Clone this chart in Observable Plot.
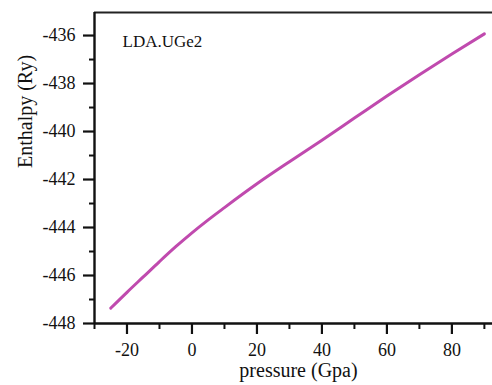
<!DOCTYPE html>
<html>
<head>
<meta charset="utf-8">
<script src="https://cdn.jsdelivr.net/npm/d3@7"></script>
<script src="https://cdn.jsdelivr.net/npm/@observablehq/plot@0.6"></script>
<style>
  html, body { margin: 0; padding: 0; background: #fff; }
  #chart svg { display: block; }
  #chart svg, #chart svg text { font-family: "Liberation Serif", "Times New Roman", serif !important; }
</style>
</head>
<body>
<div id="chart"></div>
<script>
// Enthalpy of UGe2 (LDA) versus pressure
const pressure = [-25, -20, -15, -10, -5, 0, 5, 10, 20, 30, 40, 50, 60, 70, 80, 90];
const enthalpy = [-447.36, -446.70, -446.06, -445.42, -444.80, -444.22, -443.68, -443.17,
                  -442.18, -441.26, -440.36, -439.44, -438.52, -437.63, -436.77, -435.93];

const xMajorTicks = [-20, 0, 20, 40, 60, 80];
const xMinorTicks = [-30, -10, 10, 30, 50, 70, 90];
const yMajorTicks = [-448, -446, -444, -442, -440, -438, -436];
const yMinorTicks = [-447, -445, -443, -441, -439, -437];

const xDomain = [-30, 92.5];
const yDomain = [-448, -435.04];

const curve = pressure.map((p, i) => ({pressure: p, enthalpy: enthalpy[i]}));

// plain hyphen-minus, as printed on the axes
const plainNumber = d => String(d);

const chart = Plot.plot({
  width: 492,
  height: 385,
  marginLeft: 94,
  marginRight: 0,
  marginTop: 12,
  marginBottom: 62,
  style: "font-family: 'Liberation Serif', 'Times New Roman', serif; background: #fff; color: #111;",
  x: {domain: xDomain},
  y: {domain: yDomain},
  marks: [
    // frame: heavy top edge, faint right edge
    Plot.ruleY([yDomain[1]], {stroke: "#222", strokeWidth: 2.2}),
    Plot.ruleX([xDomain[1]], {stroke: "#f2ece8", strokeWidth: 1}),
    // axes
    Plot.axisY(yMajorTicks, {tickSize: 11, tickPadding: 8, fontSize: 18, strokeWidth: 2.2, stroke: "#111", tickFormat: plainNumber, label: null}),
    Plot.axisY(yMinorTicks, {tickSize: 5, tickFormat: () => "", strokeWidth: 2, stroke: "#111", label: null}),
    Plot.axisX(xMajorTicks, {tickSize: 11, tickPadding: 9, fontSize: 18, strokeWidth: 2.2, stroke: "#111", tickFormat: plainNumber, label: null}),
    Plot.axisX(xMinorTicks, {tickSize: 6, tickFormat: () => "", strokeWidth: 2, stroke: "#111", label: null}),
    Plot.ruleX([xDomain[0]], {stroke: "#111", strokeWidth: 2.4}),
    Plot.ruleY([yDomain[0]], {stroke: "#111", strokeWidth: 2.4}),
    // enthalpy curve
    Plot.line(curve, {x: "pressure", y: "enthalpy", stroke: "#c04aae", strokeWidth: 3, strokeLinecap: "round", curve: "monotone-x"}),
    // labels
    Plot.text(["LDA.UGe2"], {frameAnchor: "top-left", dx: 28, dy: 22, text: d => d, fontSize: 17, fill: "#111", textAnchor: "start", lineAnchor: "top"}),
    Plot.text(["Enthalpy (Ry)"], {frameAnchor: "left", dx: -69, text: d => d, rotate: -90, fontSize: 20, fill: "#111"}),
    Plot.text(["pressure (Gpa)"], {frameAnchor: "bottom", dx: 5, dy: 53, text: d => d, fontSize: 20, fill: "#111"})
  ]
});

document.getElementById("chart").appendChild(chart);
</script>
</body>
</html>
